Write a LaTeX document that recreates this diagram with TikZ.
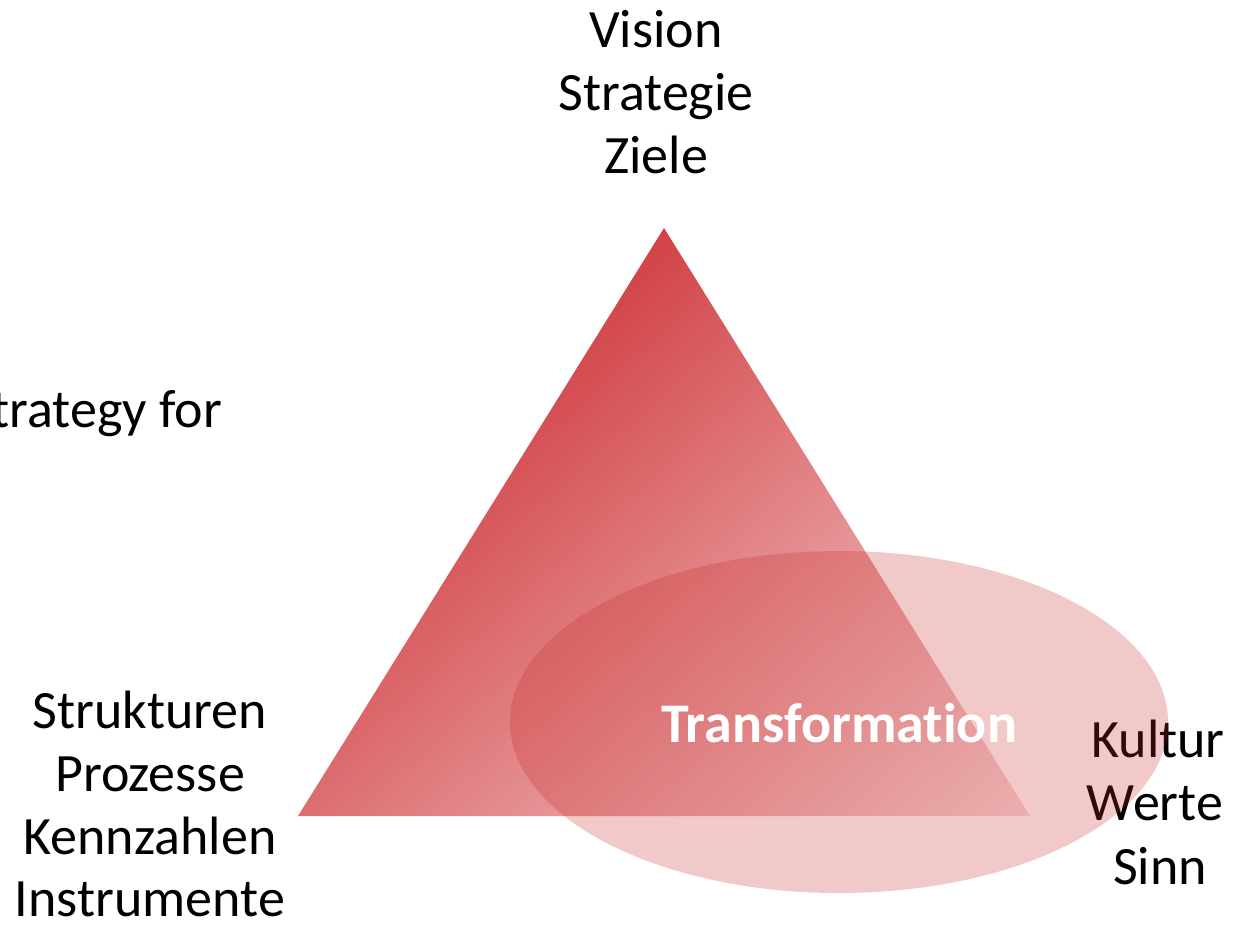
\documentclass[tikz,border=0pt]{standalone}
\usepackage{fontspec}
\setmainfont{Carlito}[Ligatures=NoCommon]
\definecolor{tridark}{RGB}{207,58,62}
\definecolor{trilight}{RGB}{250,230,230}
\definecolor{ellred}{RGB}{199,39,40}
\pgfdeclareverticalshading{trishade}{100bp}{color(0bp)=(trilight); color(34.23bp)=(trilight); color(65.77bp)=(tridark); color(100bp)=(tridark)}
\begin{document}
\begin{tikzpicture}[x=1pt,y=-1pt,
  lbl/.style={anchor=base,inner sep=0pt,font=\fontsize{54}{63}\selectfont,text=black},
  tlbl/.style={anchor=base,inner sep=0pt,font=\fontsize{56}{63}\selectfont\bfseries,text=white}]
\useasboundingbox (0,0) rectangle (1246,924);
% triangle with gradient
\begin{scope}
\clip (664,228) -- (298,816) -- (1030,816) -- cycle;
\shade[shading=trishade, shading angle=42]
  (98,58) rectangle (1298,1258);
\end{scope}
% labels
\node[lbl] (v1) at (656,47) {Vision};
\node[lbl] (v2) at (656,110) {Strategie};
\node[lbl] (v3) at (656,173) {Ziele};
\node[lbl,anchor=base east] (s1) at (222,427) {trategy for};
\node[lbl] (l1) at (150,728) {Strukturen};
\node[lbl] (l2) at (150,791) {Prozesse};
\node[lbl] (l3) at (150,854) {Kennzahlen};
\node[lbl,text depth=0pt] (l4) at (150,916) {Instrumente};
\node[lbl] (k1) at (1158,757) {Kultur};
\node[lbl] (k2) at (1155,820) {Werte};
\node[lbl] (k3) at (1160,884) {Sinn};
% ellipse on top
\fill[ellred,opacity=0.25] (839,722) ellipse [x radius=329pt, y radius=171pt];
\node[tlbl] (t) at (839,742) {Transformation};
\end{tikzpicture}
\end{document}
